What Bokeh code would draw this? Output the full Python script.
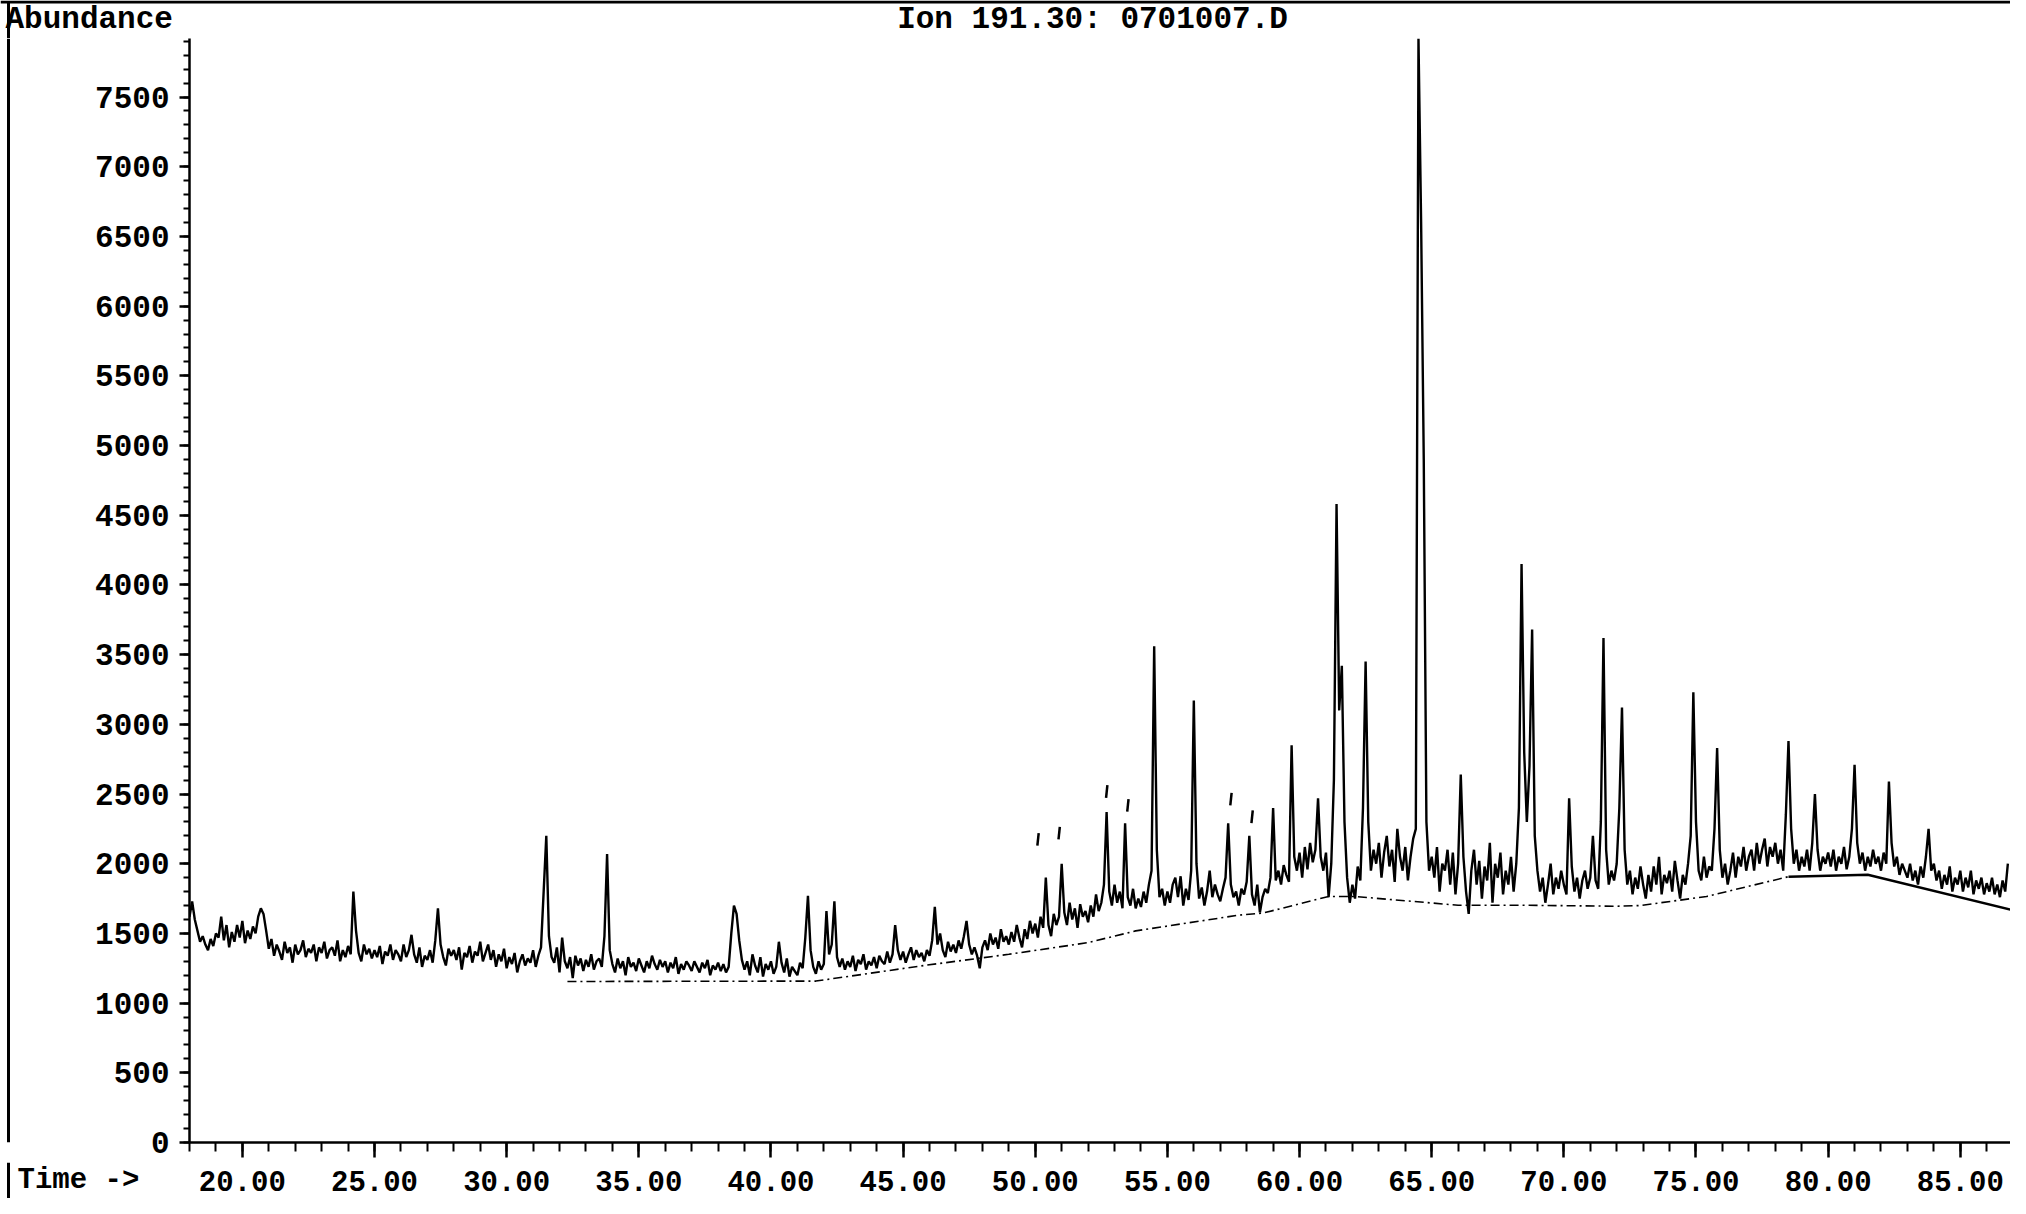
from bokeh.plotting import figure
from bokeh.layouts import column, row
from bokeh.models import Range1d, SingleIntervalTicker
from bokeh.core.properties import value
from bokeh.embed import file_html
from bokeh.resources import INLINE

# ---------------- data ----------------
title_text = "Ion 191.30: 0701007.D"
y_title = "Abundance"
x_title = "Time ->"

x_tick_values = [20, 25, 30, 35, 40, 45, 50, 55, 60, 65, 70, 75, 80, 85]
x_tick_labels = ["20.00", "25.00", "30.00", "35.00", "40.00", "45.00", "50.00",
                 "55.00", "60.00", "65.00", "70.00", "75.00", "80.00", "85.00"]

scan_start = 18.0   # min
scan_step = 0.1     # min per plotted scan
abundance = [
    1620, 1730, 1600, 1520, 1440, 1480, 1420, 1380, 1460, 1410,  # 18
    1500, 1470, 1620, 1450, 1560, 1400, 1510, 1440, 1560, 1470,  # 19
    1590, 1430, 1520, 1460, 1550, 1500, 1620, 1680, 1640, 1520,  # 20
    1390, 1460, 1340, 1420, 1370, 1310, 1440, 1360, 1400, 1290,  # 21
    1420, 1350, 1380, 1450, 1330, 1390, 1360, 1420, 1300, 1400,  # 22
    1360, 1440, 1320, 1380, 1400, 1340, 1450, 1300, 1380, 1330,  # 23
    1410, 1350, 1800, 1520, 1360, 1300, 1420, 1350, 1390, 1320,  # 24
    1380, 1330, 1410, 1280, 1370, 1340, 1420, 1310, 1380, 1350,  # 25
    1300, 1420, 1330, 1380, 1490, 1350, 1290, 1400, 1260, 1340,  # 26
    1310, 1380, 1290, 1450, 1680, 1420, 1330, 1270, 1390, 1340,  # 27
    1380, 1310, 1400, 1240, 1360, 1330, 1410, 1290, 1370, 1340,  # 28
    1440, 1300, 1360, 1420, 1310, 1380, 1260, 1350, 1300, 1390,  # 29
    1250, 1330, 1280, 1360, 1220, 1300, 1350, 1270, 1320, 1290,  # 30
    1380, 1260, 1340, 1400, 1800, 2200, 1480, 1330, 1290, 1400,  # 31
    1220, 1470, 1300, 1250, 1330, 1180, 1340, 1270, 1320, 1230,  # 32
    1310, 1260, 1350, 1240, 1300, 1320, 1260, 1480, 2070, 1380,  # 33
    1280, 1220, 1320, 1250, 1300, 1200, 1330, 1260, 1290, 1230,  # 34
    1320, 1270, 1220, 1300, 1250, 1340, 1280, 1240, 1310, 1260,  # 35
    1300, 1220, 1290, 1250, 1330, 1210, 1280, 1240, 1300, 1270,  # 36
    1230, 1300, 1260, 1220, 1290, 1250, 1310, 1200, 1270, 1240,  # 37
    1290, 1230, 1280, 1220, 1260, 1500, 1700, 1640, 1450, 1310,  # 38
    1240, 1300, 1200, 1350, 1270, 1220, 1330, 1190, 1280, 1240,  # 39
    1300, 1210, 1260, 1440, 1290, 1220, 1320, 1190, 1260, 1230,  # 40
    1200, 1290, 1250, 1470, 1770, 1380, 1260, 1210, 1300, 1240,  # 41
    1280, 1660, 1350, 1420, 1730, 1330, 1260, 1320, 1240, 1300,  # 42
    1260, 1340, 1230, 1310, 1280, 1350, 1240, 1300, 1270, 1330,  # 43
    1250, 1340, 1300, 1280, 1370, 1290, 1350, 1560, 1380, 1310,  # 44
    1370, 1290, 1350, 1400, 1310, 1380, 1330, 1360, 1300, 1380,  # 45
    1340, 1450, 1690, 1420, 1500, 1380, 1330, 1440, 1370, 1420,  # 46
    1360, 1450, 1390, 1480, 1590, 1420, 1350, 1400, 1340, 1250,  # 47
    1400, 1450, 1380, 1500, 1420, 1470, 1390, 1530, 1440, 1480,  # 48
    1420, 1510, 1440, 1560, 1470, 1400, 1530, 1460, 1590, 1500,  # 49
    1570, 1470, 1620, 1540, 1900, 1560, 1480, 1640, 1560, 1620,  # 50
    2000, 1650, 1560, 1720, 1600, 1680, 1540, 1710, 1620, 1660,  # 51
    1580, 1700, 1620, 1780, 1660, 1720, 1850, 2370, 1800, 1700,  # 52
    1850, 1720, 1800, 1680, 2290, 1760, 1700, 1820, 1680, 1750,  # 53
    1690, 1800, 1720, 1850, 1950, 3560, 2100, 1760, 1820, 1700,  # 54
    1800, 1720, 1850, 1900, 1760, 1910, 1700, 1820, 1740, 1950,  # 55
    3170, 2000, 1750, 1830, 1700, 1800, 1950, 1760, 1850, 1780,  # 56
    1730, 1820, 1900, 2290, 1850, 1760, 1800, 1700, 1820, 1780,  # 57
    1870, 2200, 1780, 1700, 1850, 1650, 1760, 1820, 1790, 1900,  # 58
    2400, 1880, 1950, 1850, 1990, 1920, 1870, 2850, 2050, 1950,  # 59
    2080, 1900, 2120, 1960, 2150, 2010, 2100, 2470, 2050, 1950,  # 60
    2080, 1760, 2000, 2600, 4580, 3100, 3420, 2300, 1900, 1720,  # 61
    1850, 1750, 1980, 1880, 2400, 3450, 2300, 1950, 2100, 2000,  # 62
    2150, 1900, 2080, 2200, 1980, 2100, 1870, 2250, 2050, 1950,  # 63
    2120, 1880, 2050, 2180, 2250, 7920, 6600, 4900, 2300, 1950,  # 64
    2050, 1900, 2120, 1800, 2000, 1950, 2100, 1850, 2080, 1780,  # 65
    2000, 2640, 2050, 1800, 1640, 1950, 2100, 1850, 2020, 1750,  # 66
    1980, 1880, 2150, 1720, 2000, 1900, 2080, 1780, 1950, 1850,  # 67
    2050, 1800, 2000, 2400, 4150, 2800, 2300, 2700, 3680, 2200,  # 68
    1950, 1800, 1900, 1720, 1850, 2000, 1780, 1900, 1820, 1950,  # 69
    1850, 1780, 2470, 1980, 1800, 1900, 1750, 1880, 1950, 1820,  # 70
    1900, 2200, 1880, 1820, 2300, 3620, 2100, 1850, 1950, 1880,  # 71
    2000, 2400, 3120, 2100, 1850, 1950, 1780, 1900, 1820, 1980,  # 72
    1850, 1750, 1920, 1800, 1980, 1850, 2050, 1780, 1920, 1860,  # 73
    1950, 1800, 2020, 1880, 1750, 1920, 1850, 2000, 2200, 3230,  # 74
    2300, 1950, 1880, 2050, 1900, 1980, 1950, 2250, 2830, 2100,  # 75
    1900, 2000, 1850, 1950, 2080, 1900, 2050, 1980, 2120, 1950,  # 76
    2050, 2100, 1950, 2150, 2000, 2100, 2180, 1980, 2120, 2050,  # 77
    2150, 2000, 2100, 1950, 2350, 2880, 2250, 2000, 2100, 1950,  # 78
    2050, 1980, 2100, 1950, 2150, 2500, 2100, 1950, 2050, 2000,  # 79
    2080, 1980, 2100, 1950, 2050, 2000, 2120, 1960, 2050, 2250,  # 80
    2710, 2150, 2000, 2080, 1950, 2050, 1980, 2100, 2000, 2050,  # 81
    1950, 2080, 2000, 2590, 2150, 1980, 2050, 1920, 2000, 1950,  # 82
    1900, 2000, 1880, 1950, 1850, 1980, 1900, 2050, 2250, 1950,  # 83
    2000, 1880, 1950, 1820, 1920, 1850, 1980, 1800, 1900, 1850,  # 84
    1950, 1800, 1900, 1830, 1950, 1780, 1880, 1820, 1900, 1780,  # 85
    1860, 1800, 1900, 1780, 1850, 1760, 1880, 1800, 2000,        # 86
]
time_min = [round(scan_start + i * scan_step, 2) for i in range(len(abundance))]

# integration baseline (dash-dot part, then solid part)
base_dash_t = [32.3, 41.7, 45.8, 49.0, 52.0, 53.8, 57.7, 58.6, 61.1, 62.1, 66.0, 68.4, 72.0, 72.9, 75.4, 78.5]
base_dash_v = [1155, 1158, 1270, 1350, 1434, 1518, 1631, 1645, 1765, 1765, 1702, 1702, 1695, 1700, 1765, 1907]
base_solid_t = [78.5, 81.5, 86.9]
base_solid_v = [1907, 1921, 1670]

# small integration tick marks above some peaks
mark_t = [50.1, 50.9, 52.7, 53.5, 57.4, 58.2]
mark_v = [2174, 2219, 2518, 2418, 2464, 2337]

# ---------------- layout geometry (pixels) ----------------
W = 2010
HEAD_H = 38
FOOT_H = 36
MAIN_H = 1198 - HEAD_H - FOOT_H
STRIP_W = 12
FRAME_LEFT = 189            # frame left edge from the page-figure left
X_START, X_END = 18.0, 86.9
Y_END = 7920
PX_PER_MIN = (W - FRAME_LEFT) / (X_END - X_START)
PAGE_X0 = X_START - FRAME_LEFT / PX_PER_MIN   # data x at the very left of the page
PAGE_LINE_X = PAGE_X0 + 8 / PX_PER_MIN

FONT = "Liberation Mono"
HEAD_TXT = dict(text_font=value(FONT), text_font_style="bold", text_font_size="31px",
                text_baseline="middle", text_color="black")
FOOT_TXT = dict(text_font=value(FONT), text_font_style="bold", text_font_size="29px",
                text_baseline="middle", text_color="black")


def bare(fig):
    fig.outline_line_color = None
    fig.background_fill_color = "white"
    fig.border_fill_color = "white"
    return fig


# ---------------- header ----------------
header = bare(figure(width=W, height=HEAD_H, x_range=Range1d(PAGE_X0, X_END),
                     y_range=Range1d(0, HEAD_H), x_axis_type=None, y_axis_type=None,
                     min_border=0, output_backend="svg", toolbar_location=None))
header.text(x=[PAGE_X0 + 5 / PX_PER_MIN], y=[HEAD_H / 2], text=[y_title], text_align="left", **HEAD_TXT)
header.text(x=[PAGE_X0 + 1092 / PX_PER_MIN], y=[HEAD_H / 2], text=[title_text], text_align="center", **HEAD_TXT)
header.line([PAGE_X0, X_END], [HEAD_H - 1.5, HEAD_H - 1.5], line_color="black", line_width=3)
header.line([PAGE_LINE_X, PAGE_LINE_X], [0, HEAD_H - 1.5], line_color="black", line_width=3)

# ---------------- left page strip ----------------
strip = bare(figure(width=STRIP_W, height=MAIN_H,
                    x_range=Range1d(PAGE_X0, PAGE_X0 + STRIP_W / PX_PER_MIN),
                    y_range=Range1d(0, MAIN_H), x_axis_type=None, y_axis_type=None,
                    min_border=0, output_backend="svg", toolbar_location=None))
strip.line([PAGE_LINE_X, PAGE_LINE_X], [0, MAIN_H], line_color="black", line_width=3)

# ---------------- main chart ----------------
p = bare(figure(width=W - STRIP_W, height=MAIN_H,
                x_range=Range1d(X_START, X_END), y_range=Range1d(0, Y_END),
                output_backend="svg", toolbar_location=None,
                min_border_left=FRAME_LEFT - STRIP_W, min_border_right=0,
                min_border_top=0, min_border_bottom=20))
p.xgrid.visible = False
p.ygrid.visible = False

p.line(time_min, abundance, line_color="black", line_width=2.4)
p.line(base_dash_t, base_dash_v, line_color="black", line_width=1.6, line_dash="9 4 2 4")
p.line(base_solid_t, base_solid_v, line_color="black", line_width=2.4)
p.segment(x0=[t - 0.02 for t in mark_t], y0=[v - 45 for v in mark_v],
          x1=[t + 0.03 for t in mark_t], y1=[v + 45 for v in mark_v],
          line_color="black", line_width=2.5)

xa = p.xaxis[0]
xa.ticker = SingleIntervalTicker(interval=5, num_minor_ticks=5)
xa.axis_line_width = 2.5
xa.major_tick_line_width = 2.5
xa.minor_tick_line_width = 2
xa.major_tick_out = 15
xa.major_tick_in = 0
xa.minor_tick_out = 9
xa.minor_tick_in = 0
xa.major_label_standoff = 0
xa.major_label_text_font_size = "1px"
xa.major_label_text_color = None   # time labels are drawn in the footer row

ya = p.yaxis[0]
ya.ticker = SingleIntervalTicker(interval=500, num_minor_ticks=5)
ya.axis_line_width = 2.5
ya.major_tick_line_width = 2.5
ya.minor_tick_line_width = 2
ya.major_tick_out = 10
ya.major_tick_in = 0
ya.minor_tick_out = 6
ya.minor_tick_in = 0
ya.major_label_standoff = 10
ya.major_label_text_font = FONT
ya.major_label_text_font_style = "bold"
ya.major_label_text_font_size = "31px"
ya.major_label_text_color = "black"

# ---------------- footer: time labels ----------------
footer = bare(figure(width=W, height=FOOT_H, x_range=Range1d(PAGE_X0, X_END),
                     y_range=Range1d(0, FOOT_H), x_axis_type=None, y_axis_type=None,
                     min_border=0, output_backend="svg", toolbar_location=None))
footer.text(x=x_tick_values, y=[FOOT_H / 2] * len(x_tick_values), text=x_tick_labels,
            text_align="center", **FOOT_TXT)
footer.text(x=[PAGE_X0 + 17 / PX_PER_MIN], y=[FOOT_H / 2], text=[x_title], text_align="left", **FOOT_TXT)
footer.line([PAGE_LINE_X, PAGE_LINE_X], [0, FOOT_H], line_color="black", line_width=3)

layout = column(header, row(strip, p), footer)
open("out.html", "w").write(file_html(layout, INLINE))
